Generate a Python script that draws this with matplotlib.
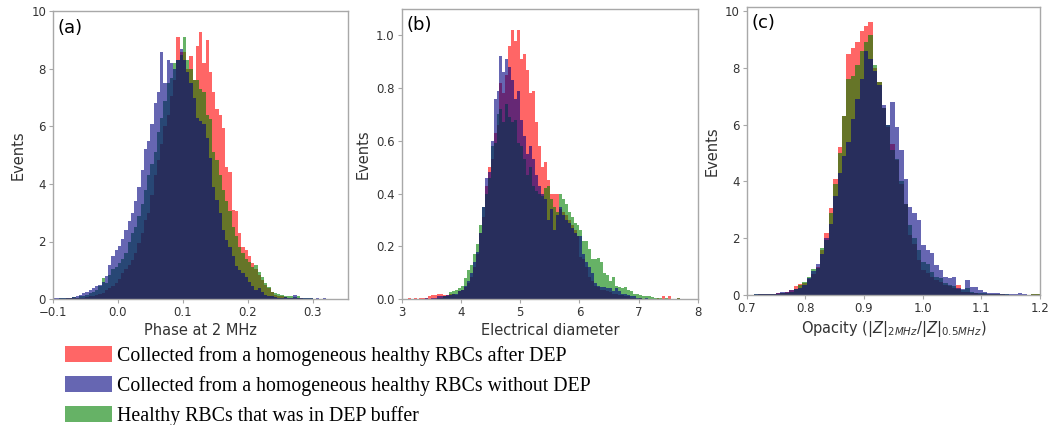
import numpy as np
import matplotlib
matplotlib.use("Agg")
import matplotlib.pyplot as plt
from matplotlib.patches import Patch

# ---- (a) phase at 2 MHz, bins of 0.005 starting at -0.1
a_start, a_width = -0.1, 0.005
a_red = [0, 0, 0, 0, 0.02, 0.02, 0.03, 0.03, 0.05, 0.05,
         0.08, 0.1, 0.12, 0.15, 0.18, 0.2, 0.3, 0.4, 0.45, 0.55,
         0.7, 0.9, 1.05, 1.2, 1.35, 1.6, 1.95, 2.3, 2.75, 3.0,
         3.6, 4.3, 4.85, 5.4, 6.0, 6.4, 7.05, 7.6, 9.1, 8.6,
         8.6, 8.0, 8.45, 7.6, 8.8, 9.3, 8.2, 9.0, 7.9, 7.2,
         6.6, 6.4, 5.95, 4.6, 4.4, 3.1, 3.05, 2.3, 1.8, 1.7,
         1.5, 1.25, 1.05, 0.85, 0.65, 0.5, 0.4, 0.25, 0.15, 0.1,
         0.1, 0.08, 0.05, 0.05, 0.03, 0.05, 0.02, 0, 0, 0,
         0, 0, 0, 0, 0, 0]
a_green = [0, 0, 0.02, 0.02, 0.03, 0.05, 0.08, 0.05, 0.1, 0.12,
           0.15, 0.2, 0.25, 0.3, 0.45, 0.72, 0.55, 0.85, 1.05, 1.1,
           1.25, 1.4, 1.6, 2.0, 2.3, 2.5, 2.9, 3.3, 3.8, 4.3,
           4.7, 5.1, 5.8, 6.3, 6.9, 7.5, 7.7, 8.2, 8.3, 8.5,
           9.1, 8.3, 8.0, 7.6, 7.6, 7.3, 7.2, 6.4, 6.25, 5.1,
           4.85, 4.3, 3.8, 3.4, 3.05, 2.5, 2.2, 1.8, 1.6, 1.4,
           1.3, 1.13, 1.2, 0.95, 0.78, 0.55, 0.43, 0.25, 0.2, 0.18,
           0.15, 0.12, 0.1, 0.12, 0.08, 0.1, 0.05, 0.03, 0.02, 0.02,
           0, 0, 0, 0, 0, 0]
a_blue = [0.02, 0.03, 0.02, 0.05, 0.03, 0.05, 0.08, 0.1, 0.15, 0.2,
          0.25, 0.3, 0.4, 0.45, 0.5, 0.6, 0.8, 1.2, 1.5, 1.7,
          1.85, 2.1, 2.4, 2.7, 3.0, 3.4, 3.9, 4.5, 5.2, 5.5,
          6.1, 6.8, 7.2, 8.6, 7.5, 8.3, 8.2, 8.0, 8.3, 8.7,
          8.3, 7.9, 7.5, 7.0, 6.3, 6.2, 6.1, 5.6, 4.9, 3.9,
          3.45, 3.0, 2.4, 2.05, 1.8, 1.5, 1.15, 1.0, 0.9, 0.75,
          0.6, 0.45, 0.3, 0.4, 0.25, 0.15, 0.1, 0.1, 0.08, 0.05,
          0.05, 0.08, 0.03, 0.05, 0.15, 0.05, 0.03, 0.02, 0.03, 0.02,
          0, 0.02, 0, 0.05, 0, 0]

# ---- (b) electrical diameter, bins of 0.05 starting at 3.1
b_start, b_width = 3.1, 0.05
b_red = [0.005, 0, 0.005, 0, 0.005, 0.005, 0.005, 0.01, 0.015, 0.015,
         0.02, 0.02, 0.015, 0.015, 0.02, 0.02, 0.015, 0.03, 0.035, 0.045,
         0.06, 0.085, 0.12, 0.17, 0.25, 0.31, 0.43, 0.5, 0.53, 0.63,
         0.66, 0.82, 0.78, 0.85, 0.96, 1.02, 0.98, 1.02, 0.91, 0.93,
         0.87, 0.78, 0.79, 0.67, 0.58, 0.5, 0.52, 0.45, 0.4, 0.4,
         0.4, 0.34, 0.33, 0.32, 0.3, 0.28, 0.26, 0.24, 0.16, 0.15,
         0.12, 0.085, 0.07, 0.05, 0.045, 0.035, 0.035, 0.03, 0.025, 0.02,
         0.02, 0.015, 0.015, 0.01, 0.01, 0.005, 0.005, 0, 0.005, 0,
         0, 0, 0, 0, 0.005, 0, 0.01, 0, 0.01, 0,
         0, 0.005, 0, 0, 0, 0]
b_green = [0, 0, 0, 0, 0, 0, 0, 0, 0, 0,
           0.005, 0.005, 0.01, 0.01, 0.025, 0.03, 0.035, 0.04, 0.05, 0.08,
           0.11, 0.13, 0.17, 0.21, 0.28, 0.35, 0.4, 0.46, 0.58, 0.59,
           0.7, 0.72, 0.67, 0.74, 0.69, 0.67, 0.68, 0.59, 0.58, 0.53,
           0.47, 0.5, 0.43, 0.41, 0.4, 0.39, 0.42, 0.43, 0.38, 0.35,
           0.33, 0.4, 0.38, 0.36, 0.33, 0.31, 0.29, 0.28, 0.26, 0.22,
           0.22, 0.19, 0.15, 0.15, 0.155, 0.14, 0.1, 0.09, 0.07, 0.085,
           0.05, 0.045, 0.04, 0.045, 0.035, 0.03, 0.02, 0.018, 0.015, 0.01,
           0.01, 0.01, 0.008, 0.005, 0.005, 0.005, 0, 0.005, 0, 0,
           0, 0.005, 0, 0, 0, 0]
b_blue = [0, 0, 0, 0, 0, 0, 0.005, 0, 0.005, 0.005,
          0.01, 0.01, 0.01, 0.015, 0.015, 0.02, 0.02, 0.03, 0.035, 0.05,
          0.07, 0.1, 0.14, 0.18, 0.25, 0.35, 0.46, 0.48, 0.6, 0.76,
          0.79, 0.92, 0.86, 0.91, 0.88, 0.83, 0.76, 0.79, 0.68, 0.62,
          0.55, 0.58, 0.53, 0.47, 0.43, 0.4, 0.38, 0.3, 0.34, 0.26,
          0.32, 0.35, 0.32, 0.3, 0.29, 0.27, 0.25, 0.24, 0.24, 0.17,
          0.14, 0.12, 0.1, 0.06, 0.05, 0.047, 0.045, 0.04, 0.04, 0.03,
          0.04, 0.03, 0.02, 0.02, 0.015, 0.01, 0.01, 0.005, 0.005, 0,
          0.005, 0, 0, 0, 0, 0, 0, 0, 0, 0,
          0, 0, 0, 0, 0, 0]

# ---- (c) opacity, bins of 0.0075 starting at 0.7125
c_start, c_width = 0.7125, 0.0075
c_red = [0, 0.02, 0.02, 0.03, 0.05, 0.06, 0.08, 0.12, 0.18, 0.3,
         0.4, 0.43, 0.55, 0.75, 1.0, 1.6, 2.2, 3.05, 4.1, 5.2,
         6.3, 8.5, 8.7, 8.9, 9.3, 9.47, 9.6, 8.0, 7.5, 6.6,
         5.9, 5.3, 4.75, 3.9, 3.2, 2.1, 1.8, 1.23, 0.88, 0.76,
         0.65, 0.53, 0.47, 0.35, 0.3, 0.25, 0.34, 0.12, 0.1, 0.08,
         0.06, 0.05, 0.04, 0.03, 0.03, 0.02, 0.02, 0.01, 0.01, 0,
         0, 0.01, 0, 0.02, 0.03]
c_green = [0.02, 0.05, 0.02, 0.02, 0.03, 0.05, 0.06, 0.08, 0.12, 0.2,
           0.35, 0.45, 0.65, 0.9, 0.95, 1.65, 1.95, 2.9, 3.9, 5.0,
           6.3, 7.6, 7.7, 8.1, 8.6, 8.9, 9.15, 8.1, 7.5, 6.6,
           6.0, 5.1, 4.8, 4.0, 3.2, 2.46, 2.0, 1.58, 1.17, 1.1,
           0.82, 0.65, 0.59, 0.41, 0.35, 0.3, 0.2, 0.18, 0.23, 0.12,
           0.08, 0.08, 0.06, 0.05, 0.04, 0.03, 0.02, 0.02, 0.01, 0.01,
           0, 0, 0.01, 0.02, 0.02]
c_blue = [0.02, 0.05, 0.03, 0.02, 0.04, 0.06, 0.1, 0.12, 0.18, 0.22,
          0.25, 0.35, 0.6, 0.85, 1.1, 1.45, 2.0, 2.5, 3.5, 4.3,
          4.9, 5.4, 6.2, 6.9, 7.6, 8.6, 8.3, 7.9, 7.4, 6.7,
          6.0, 6.8, 5.9, 5.1, 4.1, 3.1, 2.9, 2.64, 1.76, 1.58,
          1.47, 1.06, 0.88, 0.65, 0.59, 0.65, 0.23, 0.2, 0.53, 0.29,
          0.29, 0.18, 0.12, 0.08, 0.08, 0.06, 0.04, 0.04, 0.03, 0.02,
          0.08, 0.02, 0, 0, 0]

labels = ["Collected from a homogeneous healthy RBCs after DEP",
          "Collected from a homogeneous healthy RBCs without DEP",
          "Healthy RBCs that was in DEP buffer"]
colors = {"red": "red", "blue": "navy", "green": "green"}
ALPHA = 0.6

panels = [
    dict(pos=[53, 11.5, 348, 299], start=a_start, width=a_width,
         red=a_red, green=a_green, blue=a_blue,
         xlim=(-0.1, 0.354), ylim=(0, 10), tag="(a)",
         xlabel="Phase at 2 MHz",
         xticks=[-0.1, 0.0, 0.1, 0.2, 0.3], yticks=[0, 2, 4, 6, 8, 10],
         xfmt="{:.1f}", yfmt="{:g}"),
    dict(pos=[401.7, 9, 698, 299], start=b_start, width=b_width,
         red=b_red, green=b_green, blue=b_blue,
         xlim=(3, 8), ylim=(0, 1.1), tag="(b)",
         xlabel="Electrical diameter",
         xticks=[3, 4, 5, 6, 7, 8], yticks=[0, 0.2, 0.4, 0.6, 0.8, 1.0],
         xfmt="{:g}", yfmt="{:.1f}"),
    dict(pos=[746.7, 7.3, 1040, 295], start=c_start, width=c_width,
         red=c_red, green=c_green, blue=c_blue,
         xlim=(0.7, 1.2), ylim=(0, 10.13), tag="(c)",
         xlabel=r"Opacity ($|Z|_{2MHz}/|Z|_{0.5MHz}$)",
         xticks=[0.7, 0.8, 0.9, 1.0, 1.1, 1.2], yticks=[0, 2, 4, 6, 8, 10],
         xfmt="{:.1f}", yfmt="{:g}"),
]

W, H = 1052, 425
fig = plt.figure(figsize=(W / 100, H / 100), dpi=100)
spine_col = "#a8a8a8"
text_col = "#333333"

for p in panels:
    x0, top, x1, bottom = p["pos"]
    ax = fig.add_axes([x0 / W, 1 - bottom / H, (x1 - x0) / W, (bottom - top) / H])
    for key in ("red", "green", "blue"):
        vals = np.array(p[key], dtype=float)
        edges = p["start"] + p["width"] * np.arange(len(vals) + 1)
        ax.stairs(vals, edges, fill=True, color=colors[key], alpha=ALPHA,
                  linewidth=0)
    ax.set_xlim(*p["xlim"])
    ax.set_ylim(*p["ylim"])
    ax.set_xticks(p["xticks"])
    ax.set_xticklabels([p["xfmt"].format(v).replace("-", "\u2212") for v in p["xticks"]])
    ax.set_yticks(p["yticks"])
    ax.set_yticklabels([p["yfmt"].format(v) for v in p["yticks"]])
    ax.tick_params(labelsize=8.5, colors=spine_col, labelcolor=text_col,
                   length=3, width=0.8, pad=2)
    for s in ax.spines.values():
        s.set_color(spine_col)
        s.set_linewidth(1.0)
    ax.set_xlabel(p["xlabel"], fontsize=10.5, color=text_col, labelpad=3)
    ax.set_ylabel("Events", fontsize=10.5, color=text_col, labelpad=4)
    ax.text(0.015, 0.975, p["tag"], transform=ax.transAxes, fontsize=13,
            va="top", ha="left", color="black")

handles = [Patch(facecolor=colors[k], alpha=ALPHA, edgecolor="none")
           for k in ("red", "blue", "green")]
fig.legend(handles, labels, loc="upper left", bbox_to_anchor=(65 / W, 1 - 346 / H),
           frameon=False, prop={"family": "Liberation Serif", "size": 14.3},
           handlelength=2.35, handleheight=0.85, handletextpad=0.28,
           labelspacing=0.5, borderaxespad=0, borderpad=0)

fig.savefig("out.png", dpi=100)
